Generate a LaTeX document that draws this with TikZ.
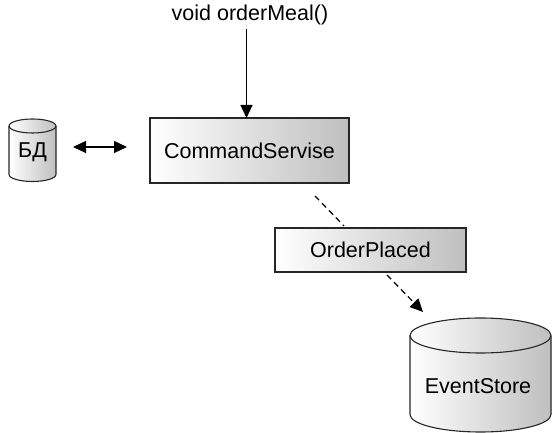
\documentclass[tikz,border=0pt]{standalone}
\usepackage{fontspec}
\setmainfont{Liberation Sans}
\usetikzlibrary{arrows.meta}

\tikzset{
  lbl/.style={font=\fontsize{21.5}{24}\selectfont, inner sep=0pt},
  shadedbox/.style={draw=black!85, line width=1.1pt, left color=white, right color=black!25},
  shadedcyl/.style={draw=black!85, line width=1.1pt, left color=white, right color=black!25},
  flow/.style={line width=1.2pt, -{Triangle[length=13pt,width=12pt]}},
  dashflow/.style={line width=1.2pt, dash pattern=on 6pt off 4pt},
}

\begin{document}
\begin{tikzpicture}[x=1pt,y=1pt]
\useasboundingbox (0,0) rectangle (552,433);

% Command service box and its incoming call
\path[shadedbox] (150,250) rectangle (349,315);
\node[lbl] (cmd) at (249.5,282.5) {CommandServise};
\coordinate (cmdtop) at (246.5,315);
\node[lbl] (call) at (250,418) {void orderMeal()};
\coordinate (callend) at (246.5,403.5);
\draw[flow] (callend) -- (cmdtop);

% Local database
\path[shadedcyl] (9,307) -- (9,258.5) arc (180:360:23.5 and 7) -- (56,307) arc (0:180:23.5 and 7) -- cycle;
\draw[black!85, line width=1.1pt] (9,307) arc (180:360:23.5 and 7);
\node[lbl] (db) at (32.5,281) {БД};
\coordinate (dbR) at (73,286);
\coordinate (cmdL) at (127,286);
\draw[line width=1.2pt, {Triangle[length=13pt,width=12pt]}-{Triangle[length=13pt,width=12pt]}] (dbR) -- (cmdL);

% Event
\path[shadedbox] (275,161) rectangle (466,205);
\node[lbl] (ev) at (370.5,183) {OrderPlaced};
\coordinate (d1a) at (315,237);
\coordinate (d1b) at (344,207);
\draw[dashflow] (d1a) -- (d1b);

% Event store
\path[shadedcyl] (410,97.5) -- (410,18.5) arc (180:360:70.5 and 17.5) -- (551,97.5) arc (0:180:70.5 and 17.5) -- cycle;
\draw[black!85, line width=1.1pt] (410,97.5) arc (180:360:70.5 and 17.5);
\node[lbl] (store) at (478,47) {EventStore};
\coordinate (d2a) at (387,158);
\coordinate (d2b) at (423,121);
\draw[dashflow, -{Triangle[length=13pt,width=12pt]}] (d2a) -- (d2b);
\end{tikzpicture}
\end{document}
